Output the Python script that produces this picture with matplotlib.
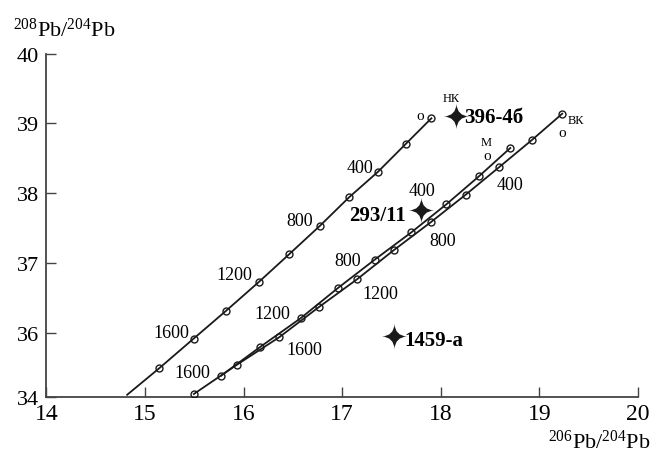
import matplotlib
matplotlib.use("Agg")
import matplotlib.pyplot as plt
from matplotlib.path import Path

plt.rcParams['font.family'] = ['Liberation Serif', 'DejaVu Serif']
plt.rcParams['mathtext.fontset'] = 'custom'
plt.rcParams['mathtext.rm'] = 'Liberation Serif'
plt.rcParams['mathtext.it'] = 'Liberation Serif:italic'
plt.rcParams['mathtext.bf'] = 'Liberation Serif:bold'

# ---------------- data ----------------
ages = [0, 200, 400, 600, 800, 1000, 1200, 1400, 1600, 1800, 2000]

# lower crust (нк)
nk_x = [17.905, 17.644, 17.364, 17.070, 16.776, 16.462, 16.152, 15.826, 15.494, 15.145]
nk_y = [39.074, 38.705, 38.308, 37.941, 37.534, 37.124, 36.723, 36.318, 35.915, 35.490]
nk_end_x = 14.82
nk_end_y = 35.11

# mantle (м)
m_x = [18.705, 18.387, 18.057, 17.702, 17.330, 16.955, 16.578, 16.172, 15.773]
m_y = [38.648, 38.242, 37.841, 37.439, 37.047, 36.638, 36.206, 35.799, 35.384]

# upper crust (вк)
vk_x = [19.232, 18.928, 18.590, 18.252, 17.898, 17.526, 17.155, 16.761, 16.361, 15.929, 15.496]
vk_y = [39.140, 38.767, 38.371, 37.978, 37.583, 37.186, 36.770, 36.364, 35.934, 35.537, 35.121]

# samples
samples = ["396-4б", "293/11", "1459-а"]
samp_x = [18.15, 17.80, 17.53]
samp_y = [39.10, 37.76, 35.95]

x_ticks = [14, 15, 16, 17, 18, 19, 20]
x_labels = ["14", "15", "16", "17", "18", "19", "20"]
y_bottom = 35.078
y_ticks = [y_bottom, 36, 37, 38, 39, 40]
y_labels = ["34", "36", "37", "38", "39", "40"]

labelled_ages = [400, 800, 1200, 1600]

# ---------------- figure ----------------
W, H = 653, 456
fig = plt.figure(figsize=(W / 100, H / 100), dpi=100)
ax = fig.add_axes([46.3 / W, 1 - 398 / H, (638 - 46.3) / W, (398 - 54.7) / H])
ax.set_xlim(14, 20)
ax.set_ylim(y_bottom, 40)

lc = '#1a1a1a'
lw = 1.3
mk = dict(marker='o', ms=5, mfc='none', mec=lc, mew=1.0)

ax.plot(nk_x + [nk_end_x], nk_y + [nk_end_y], color=lc, lw=lw,
        markevery=list(range(len(nk_x))), **mk, zorder=3)
ax.plot(m_x, m_y, color=lc, lw=lw, **mk, zorder=3)
ax.plot(vk_x, vk_y, color=lc, lw=lw, **mk, zorder=3)

# four-pointed star marker with concave sides
c = 0.06
star = Path([(0, 1), (c, c), (1, 0), (c, -c), (0, -1), (-c, -c), (-1, 0), (-c, c), (0, 1),
             (0, 1)],
            [Path.MOVETO] + [Path.CURVE3] * 8 + [Path.CLOSEPOLY])
ax.plot(samp_x, samp_y, linestyle='none', marker=star, ms=18, color=lc, mew=0, zorder=4)

# sample labels
samp_off = [(9, -1, 'left'), (-15, -5, 'right'), (10, -4, 'left')]
for name, x, y, (dx, dy, ha) in zip(samples, samp_x, samp_y, samp_off):
    ax.annotate(name, (x, y), xytext=(dx, dy), textcoords='offset pixels',
                ha=ha, va='center', fontsize=15, fontweight='bold', color='black')

# age labels
def age_labels(xs, ys, offsets, ha):
    for a, (dx, dy) in zip(labelled_ages, offsets):
        i = ages.index(a)
        ax.annotate(str(a), (xs[i], ys[i]), xytext=(dx, dy), textcoords='offset pixels',
                    ha=ha, va='center', fontsize=13, color='black')

age_labels(nk_x, nk_y, [(-5, 4), (-7, 5), (-6, 8), (-4, 6)], 'right')
age_labels(m_x, m_y, [(-11, 14), (-14, -1), (-10, 5), (-11, 3)], 'right')
age_labels(vk_x, vk_y, [(-2, -17), (-1, -18), (5, -15), (7, -12)], 'left')

# curve names and zero-age marks
names = [("НК", nk_x, nk_y, (20, 20), (-11, 3)),
         ("М", m_x, m_y, (-24, 6), (-23, -8)),
         ("ВК", vk_x, vk_y, (14, -6), (0, -19))]
for nm, xs, ys, off_n, off_o in names:
    ax.annotate(nm, (xs[0], ys[0]), xytext=off_n, textcoords='offset pixels',
                ha='center', va='center', fontsize=9, color='black')
    ax.annotate("о", (xs[0], ys[0]), xytext=off_o, textcoords='offset pixels',
                ha='center', va='center', fontsize=11, color='black')

# axes styling
spc = '#444444'
for s in ['top', 'right']:
    ax.spines[s].set_visible(False)
for s in ['left', 'bottom']:
    ax.spines[s].set_color(spc)
    ax.spines[s].set_linewidth(1.3)

ax.set_xticks(x_ticks)
ax.set_xticklabels(x_labels)
ax.set_yticks(y_ticks)
ax.set_yticklabels(y_labels)
ax.tick_params(axis='both', direction='in', length=7, width=1.0, color=spc)
ax.tick_params(axis='x', labelsize=17, pad=4)
ax.tick_params(axis='y', labelsize=16, pad=5)

fig.text(13 / W, 1 - 37 / H, r"$^{208}$Pb/$^{204}$Pb", fontsize=16, ha='left', va='baseline')
fig.text(650 / W, 1 - 449 / H, r"$^{206}$Pb/$^{204}$Pb", fontsize=16, ha='right', va='baseline')

fig.savefig("out.png", dpi=100)
